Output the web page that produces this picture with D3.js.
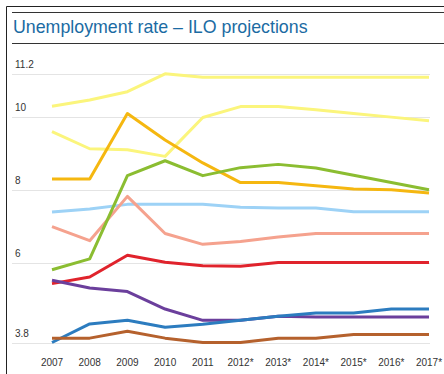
<!DOCTYPE html>
<meta charset="utf-8">
<style>
body{margin:0;background:white}
text{font-family:Arial,"Liberation Sans",sans-serif}
.grid line{stroke:#e4e4e4;stroke-width:1}
.line{fill:none;stroke-width:3;stroke-linejoin:round}
</style>
<svg width="444" height="374"></svg>
<script src="https://d3js.org/d3.v7.min.js"></script>
<script>

var years = ["2007","2008","2009","2010","2011","2012*","2013*","2014*","2015*","2016*","2017*"];
var yTicks = [3.8, 6, 8, 10, 11.2];

// one array per country line
var paleYellowA = [10.3, 10.47, 10.7, 11.19, 11.1, 11.1, 11.1, 11.1, 11.1, 11.1, 11.1];
var paleYellowB = [9.6, 9.13, 9.1, 8.92, 9.99, 10.29, 10.29, 10.2, 10.1, 10.0, 9.9];
var orange      = [8.3, 8.3, 10.1, 9.37, 8.74, 8.2, 8.2, 8.11, 8.02, 8.0, 7.91];
var green       = [5.8, 6.1, 8.39, 8.8, 8.39, 8.61, 8.7, 8.6, 8.4, 8.2, 8.0];
var lightBlue   = [7.39, 7.47, 7.6, 7.6, 7.6, 7.52, 7.5, 7.5, 7.4, 7.4, 7.4];
var salmon      = [6.99, 6.6, 7.82, 6.8, 6.5, 6.58, 6.7, 6.8, 6.8, 6.8, 6.8];
var red         = [5.42, 5.6, 6.2, 6.01, 5.91, 5.9, 6.0, 6.0, 6.0, 6.0, 6.0];
var purple      = [5.51, 5.3, 5.2, 4.72, 4.41, 4.41, 4.52, 4.5, 4.5, 4.5, 4.5];
var blue        = [3.8, 4.31, 4.41, 4.22, 4.3, 4.41, 4.52, 4.61, 4.61, 4.72, 4.72];
var brown       = [3.92, 3.92, 4.11, 3.92, 3.8, 3.8, 3.92, 3.92, 4.02, 4.02, 4.02];

var series = [
  {values: paleYellowA, color: "#fbf57c"},
  {values: paleYellowB, color: "#fbf57c"},
  {values: lightBlue,   color: "#9dd2f6"},
  {values: salmon,      color: "#f5a28e"},
  {values: orange,      color: "#f5b710"},
  {values: green,       color: "#8bbd31"},
  {values: red,         color: "#e0232c"},
  {values: purple,      color: "#6b3f9c"},
  {values: blue,        color: "#2c7cbf"},
  {values: brown,       color: "#b5612d"}
];

var svg = d3.select("svg");

// frame + title rules
svg.append("line").attr("x1", 6.5).attr("y1", 6.5).attr("x2", 444).attr("y2", 6.5).attr("stroke", "#222");
svg.append("line").attr("x1", 6.5).attr("y1", 6.5).attr("x2", 6.5).attr("y2", 374).attr("stroke", "#222");
svg.append("line").attr("x1", 12).attr("y1", 12.5).attr("x2", 444).attr("y2", 12.5).attr("stroke", "#333");
svg.append("line").attr("x1", 12).attr("y1", 43.5).attr("x2", 444).attr("y2", 43.5).attr("stroke", "#333");

svg.append("text")
    .attr("x", 13).attr("y", 33)
    .attr("fill", "#1b6ba3")
    .style("font-size", "17.8px")
    .text("Unemployment rate \u2013 ILO projections");

var x = d3.scalePoint().domain(years).range([52, 429]);
var y = d3.scaleLinear().domain([3.8, 11.2]).range([342.5, 73.5]);

var grid = svg.append("g").attr("class", "grid");
grid.selectAll("line")
  .data(yTicks)
  .enter().append("line")
    .attr("x1", 12).attr("x2", 430)
    .attr("y1", function(d) { return Math.round(y(d)) + 0.5; })
    .attr("y2", function(d) { return Math.round(y(d)) + 0.5; });

svg.append("g").selectAll("text")
  .data(yTicks)
  .enter().append("text")
    .attr("x", 15)
    .attr("y", function(d) { return y(d) - 6; })
    .attr("fill", "#333")
    .style("font-size", "10px")
    .text(function(d) { return d; });

svg.append("g").selectAll("text")
  .data(years)
  .enter().append("text")
    .attr("x", function(d) { return x(d); })
    .attr("y", 366)
    .attr("text-anchor", "middle")
    .attr("fill", "#333")
    .style("font-size", "10px")
    .text(function(d) { return d; });

var line = d3.line()
    .x(function(d, i) { return x(years[i]); })
    .y(function(d) { return y(d); });

svg.append("g").selectAll("path")
  .data(series)
  .enter().append("path")
    .attr("class", "line")
    .attr("stroke", function(d) { return d.color; })
    .attr("d", function(d) { return line(d.values); });

</script>
